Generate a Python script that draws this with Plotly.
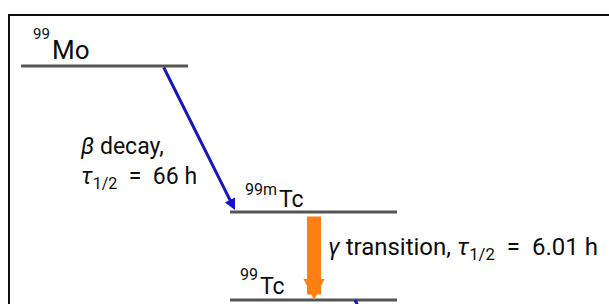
import plotly.graph_objects as go

# ---- data ----
mass_numbers = ["99", "99m", "99"]
elements = ["Mo", "Tc", "Tc"]
transition_types = ["β", "γ"]
transition_names = ["decay", "transition"]
half_lives = [66, 6.01]
half_life_unit = "h"

# ---- layout (pixel-like diagram coordinates) ----
W, H = 609, 304
level_x = [(21, 188), (230, 397), (230, 397)]
level_y = [66, 212, 300]
FONT = "Roboto, Open Sans, sans-serif"
GRAY = "#555555"
BLUE = "#1414c8"
ORANGE = "#ff7f12"
INK = "#0d0d0d"

fig = go.Figure()

# energy levels
for (x0, x1), y in zip(level_x, level_y):
    fig.add_trace(go.Scatter(x=[x0, x1], y=[y, y], mode="lines",
                             line=dict(color=GRAY, width=3),
                             hoverinfo="skip", showlegend=False))

# beta decay leaving 99Tc (runs off the canvas)
fig.add_trace(go.Scatter(x=[355, 380], y=[level_y[2], level_y[2] + 50], mode="lines",
                         line=dict(color=BLUE, width=3),
                         hoverinfo="skip", showlegend=False))

annotations = []
# beta arrow 99Mo -> 99mTc
annotations.append(dict(x=235, y=level_y[1] - 2, ax=163, ay=level_y[0],
                        xref="x", yref="y", axref="x", ayref="y",
                        showarrow=True, arrowhead=2, arrowwidth=3, arrowsize=0.75,
                        arrowcolor=BLUE, text=""))
# gamma arrow 99mTc -> 99Tc
annotations.append(dict(x=314, y=level_y[2], ax=314, ay=level_y[1] + 3,
                        xref="x", yref="y", axref="x", ayref="y",
                        showarrow=True, arrowhead=2, arrowwidth=14, arrowsize=0.3,
                        arrowcolor=ORANGE, text=""))

# nuclide labels: (x split, superscript y, element y, element size, superscript size)
label_pos = [(51, 34, 50, 26, 15), (278, 189, 199, 23, 16), (259, 274, 286, 23, 16)]
for mn, el, (lx, sy, ey, fs, ss) in zip(mass_numbers, elements, label_pos):
    annotations.append(dict(x=lx + 1, y=sy, xref="x", yref="y", xanchor="right", yanchor="middle",
                            showarrow=False, text=mn,
                            font=dict(family=FONT, size=ss, color=INK)))
    annotations.append(dict(x=lx - 1, y=ey, xref="x", yref="y", xanchor="left", yanchor="middle",
                            showarrow=False, text=el,
                            font=dict(family=FONT, size=fs, color=INK)))

EQ = "&nbsp;&nbsp;=&nbsp;&nbsp;"
# transition labels
annotations.append(dict(x=78, y=163, xref="x", yref="y", xanchor="left", yanchor="middle",
                        showarrow=False, align="left",
                        text=f"<i>{transition_types[0]}</i> {transition_names[0]},<br>"
                             f"<i>τ</i><sub>1/2</sub>{EQ}{half_lives[0]:g} {half_life_unit}",
                        font=dict(family=FONT, size=23, color=INK)))
annotations.append(dict(x=326, y=248, xref="x", yref="y", xanchor="left", yanchor="middle",
                        showarrow=False, align="left",
                        text=f"<i>{transition_types[1]}</i> {transition_names[1]}, "
                             f"<i>τ</i><sub>1/2</sub>{EQ}{half_lives[1]:.2f} {half_life_unit}",
                        font=dict(family=FONT, size=24, color=INK)))

fig.update_layout(
    width=W, height=H, margin=dict(l=0, r=0, t=0, b=0),
    paper_bgcolor="white", plot_bgcolor="white",
    xaxis=dict(range=[0, W], visible=False, fixedrange=True),
    yaxis=dict(range=[H, 0], visible=False, fixedrange=True),
    annotations=annotations,
    shapes=[dict(type="rect", xref="x", yref="y", x0=9, y0=15, x1=W + 20, y1=H + 20,
                 line=dict(color=INK, width=2), fillcolor="rgba(0,0,0,0)")],
)

fig.write_html("out.html", config={"displayModeBar": False},
               post_script="document.body.style.margin='0';document.body.style.overflow='hidden';")
